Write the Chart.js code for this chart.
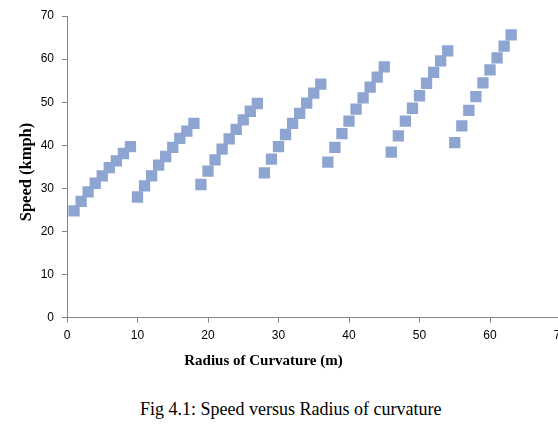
<!DOCTYPE html>
<html>
<head>
<meta charset="utf-8">
<script src="https://cdn.jsdelivr.net/npm/chart.js@4"></script>
<style>
  html, body { margin: 0; padding: 0; overflow: hidden; background: #fff; }
  body { width: 558px; height: 446px; position: relative; }
  #wrap { position: absolute; left: 0; top: 0; width: 600px; height: 380px; }
  #caption {
    position: absolute; left: 140px; top: 399px;
    font-family: "Liberation Serif", "Times New Roman", serif;
    font-size: 18px; line-height: 20px; color: #000; white-space: nowrap;
  }
</style>
</head>
<body>
<div id="wrap"><canvas id="speedChart"></canvas></div>
<div id="caption">Fig 4.1: Speed versus Radius of curvature</div>
<script>
// ---------------- data ----------------
const radius = [
  1, 2, 3, 4, 5, 6, 7, 8, 9,
  10, 11, 12, 13, 14, 15, 16, 17, 18,
  19, 20, 21, 22, 23, 24, 25, 26, 27,
  28, 29, 30, 31, 32, 33, 34, 35, 36,
  37, 38, 39, 40, 41, 42, 43, 44, 45,
  46, 47, 48, 49, 50, 51, 52, 53, 54,
  55, 56, 57, 58, 59, 60, 61, 62, 63
];
const speed = [
  24.8, 27.0, 29.2, 31.2, 32.9, 34.8, 36.4, 38.1, 39.7,
  28.0, 30.6, 32.9, 35.4, 37.4, 39.5, 41.6, 43.3, 45.1,
  30.9, 34.0, 36.6, 39.1, 41.5, 43.7, 45.9, 47.9, 49.7,
  33.6, 36.8, 39.7, 42.5, 45.1, 47.4, 49.8, 52.1, 54.2,
  36.1, 39.5, 42.7, 45.6, 48.4, 51.0, 53.5, 55.8, 58.2,
  38.4, 42.2, 45.6, 48.6, 51.5, 54.4, 56.9, 59.6, 61.9,
  40.6, 44.5, 48.1, 51.3, 54.5, 57.5, 60.3, 63.0, 65.6
];
const xTicks = [0, 10, 20, 30, 40, 50, 60, 70];
const yTicks = [0, 10, 20, 30, 40, 50, 60, 70];
const xTitle = "Radius of Curvature (m)";
const yTitle = "Speed (kmph)";

const points = radius.map((r, i) => ({ x: r, y: speed[i] }));

const axisGray = "#868686";
const tickFont = { family: "'Liberation Sans', Arial, sans-serif", size: 12 };
const serif = "'Liberation Serif', 'Times New Roman', serif";

// axis titles drawn by hand so they sit where the original has them
const axisTitles = {
  id: "axisTitles",
  afterDraw(chart) {
    const c = chart.ctx;
    c.save();
    c.fillStyle = "#000";
    c.textAlign = "center";
    c.textBaseline = "middle";
    c.font = "bold 15px " + serif;
    c.fillText(xTitle, 263.5, 361);
    c.translate(26.5, 172);
    c.rotate(-Math.PI / 2);
    c.font = "bold 16.5px " + serif;
    c.fillText(yTitle, 0, 0);
    c.restore();
  },
};

const ctx = document.getElementById("speedChart").getContext("2d");

new Chart(ctx, {
  type: "scatter",
  data: {
    datasets: [
      {
        label: "Speed",
        data: points,
        pointStyle: "rect",
        pointRadius: 8,
        pointHoverRadius: 8,
        pointBorderWidth: 0,
        backgroundColor: "#8EA5D1",
        borderColor: "#8EA5D1",
      },
    ],
  },
  options: {
    responsive: true,
    maintainAspectRatio: false,
    animation: false,
    layout: { padding: { left: 0, right: 39.5, top: 16, bottom: 0 } },
    plugins: {
      legend: { display: false },
      tooltip: { enabled: false },
    },
    scales: {
      x: {
        type: "linear",
        min: 0,
        max: 70,
        afterBuildTicks: (scale) => {
          scale.ticks = xTicks.map((v) => ({ value: v }));
        },
        afterFit: (scale) => {
          scale.height = 62.3;
        },
        grid: { drawOnChartArea: false, color: axisGray, tickLength: 5 },
        border: { color: axisGray },
        ticks: { color: "#000", font: tickFont, padding: 6, maxRotation: 0 },
      },
      y: {
        type: "linear",
        min: 0,
        max: 70,
        afterBuildTicks: (scale) => {
          scale.ticks = yTicks.map((v) => ({ value: v }));
        },
        afterFit: (scale) => {
          scale.width = 67;
        },
        grid: { drawOnChartArea: false, color: axisGray, tickLength: 5 },
        border: { color: axisGray },
        ticks: { color: "#000", font: tickFont, padding: 8 },
      },
    },
  },
  plugins: [axisTitles],
});
</script>
</body>
</html>
